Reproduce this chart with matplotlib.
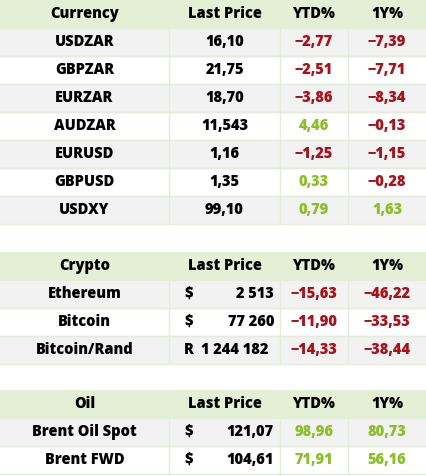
import matplotlib
matplotlib.use("Agg")
import matplotlib.pyplot as plt
from matplotlib.patches import Rectangle

plt.rcParams['font.family'] = ['Open Sans', 'DejaVu Sans']

headers = [["Currency", "Last Price", "YTD%", "1Y%"],
           ["Crypto", "Last Price", "YTD%", "1Y%"],
           ["Oil", "Last Price", "YTD%", "1Y%"]]
cur_names = ["USDZAR", "GBPZAR", "EURZAR", "AUDZAR", "EURUSD", "GBPUSD", "USDXY"]
cur_price = ["16,10", "21,75", "18,70", "11,543", "1,16", "1,35", "99,10"]
cur_ytd = [-2.77, -2.51, -3.86, 4.46, -1.25, 0.33, 0.79]
cur_1y = [-7.39, -7.71, -8.34, -0.13, -1.15, -0.28, 1.63]
cry_names = ["Ethereum", "Bitcoin", "Bitcoin/Rand"]
cry_cur = ["$", "$", "R"]
cry_price = ["2 513", "77 260", "1 244 182"]
cry_ytd = [-15.63, -11.90, -14.33]
cry_1y = [-46.22, -33.53, -38.44]
oil_names = ["Brent Oil Spot", "Brent FWD"]
oil_cur = ["$", "$"]
oil_price = ["121,07", "104,61"]
oil_ytd = [98.96, 71.91]
oil_1y = [80.73, 56.16]

W, H = 426, 476
fig = plt.figure(figsize=(W/100, H/100), dpi=100)
ax = fig.add_axes([0, 0, 1, 1])
ax.set_xlim(0, W); ax.set_ylim(H, 0); ax.axis('off')

cols = [0, 169, 280, 348, 426]
RH = 28
HDR = '#e4efd5'; GRAY = '#f2f2f2'; LINE = '#e3edd9'
RED = '#a8121a'; GREEN = '#8cbf26'
fs = 10.5
WT = 800

def fmt(v):
    return f"{v:.2f}".replace('.', ',').replace('-', '\u2212')

def col(v):
    return RED if v < 0 else GREEN

def section(y0, hdr, names, cur, prices, ytd, y1):
    ax.add_patch(Rectangle((0, y0), W, RH, color=HDR, lw=0))
    for k in range(4):
        ax.text((cols[k]+cols[k+1])/2, y0+RH/2, hdr[k], ha='center', va='center', fontsize=fs, weight=WT)
    for i, n in enumerate(names):
        y = y0 + RH*(i+1)
        fc = GRAY if i % 2 == 0 else 'white'
        ax.add_patch(Rectangle((0, y), W, RH, facecolor=fc, edgecolor='none'))
        ax.plot([0, W], [y, y], color=LINE, lw=1)
        ax.plot([0, W], [y+RH, y+RH], color=LINE, lw=1)
        for c in cols[1:4]:
            ax.plot([c, c], [y, y+RH], color=LINE, lw=1)
        yc = y + RH/2
        ax.text((cols[0]+cols[1])/2, yc, n, ha='center', va='center', fontsize=fs, weight=WT)
        if cur is None:
            ax.text((cols[1]+cols[2])/2, yc, prices[i], ha='center', va='center', fontsize=fs, weight=WT)
        else:
            ax.text(184, yc, cur[i], ha='left', va='center', fontsize=fs, weight=WT)
            rx = 268 if len(prices[i]) > 7 else 274
            ax.text(rx, yc, prices[i], ha='right', va='center', fontsize=fs, weight=WT)
        ax.text((cols[2]+cols[3])/2, yc, fmt(ytd[i]), ha='center', va='center', fontsize=fs, weight=WT, color=col(ytd[i]))
        ax.text((cols[3]+cols[4])/2, yc, fmt(y1[i]), ha='center', va='center', fontsize=fs, weight=WT, color=col(y1[i]))

section(0, headers[0], cur_names, None, cur_price, cur_ytd, cur_1y)
section(252, headers[1], cry_names, cry_cur, cry_price, cry_ytd, cry_1y)
section(390, headers[2], oil_names, oil_cur, oil_price, oil_ytd, oil_1y)

fig.savefig("out.png", dpi=100)
